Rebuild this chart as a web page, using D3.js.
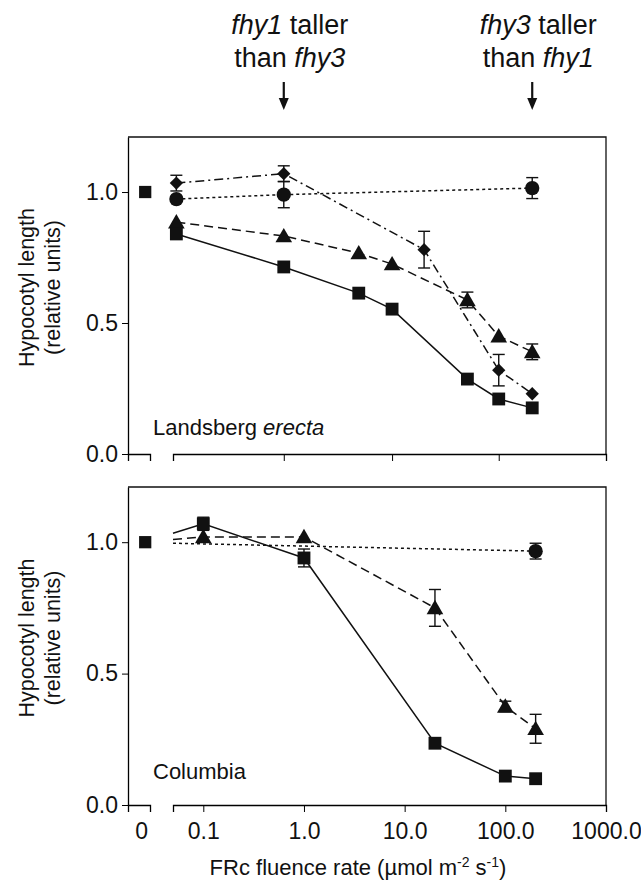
<!DOCTYPE html>
<html>
<head>
<meta charset="utf-8">
<script src="https://cdn.jsdelivr.net/npm/d3@7"></script>
<style>
  html, body { margin: 0; padding: 0; background: #fff; }
  svg { display: block; }
  text { font-family: "Liberation Sans", Arial, Helvetica, sans-serif; fill: #111; }
</style>
</head>
<body>
<svg id="chart" width="641" height="884"></svg>
<script>
// ---------------- data ----------------
const yTicks = [0, 0.5, 1.0];
const xTicksBottom = [0.1, 1, 10, 100, 1000];
const xTickLabelsBottom = ["0.1", "1.0", "10.0", "100.0", "1000.0"];
const xTicksTop = [0.63, 7.5, 86];

// Landsberg erecta (top panel)
const lerControl = 1.0;
const lerSquareX = [0.054, 0.63, 3.5, 7.5, 42, 86, 185];
const lerSquareY = [0.84, 0.714, 0.614, 0.553, 0.286, 0.21, 0.176];
const lerSquareErr = [0, 0, 0, 0, 0, 0, 0];
const lerTriX = [0.054, 0.63, 3.5, 7.5, 42, 86, 185];
const lerTriY = [0.885, 0.832, 0.767, 0.725, 0.588, 0.45, 0.39];
const lerTriErr = [0, 0, 0, 0, 0.03, 0, 0.03];
const lerDiaX = [0.054, 0.63, 15.6, 86, 185];
const lerDiaY = [1.034, 1.07, 0.78, 0.32, 0.23];
const lerDiaErr = [0.03, 0.03, 0.07, 0.06, 0];
const lerCircX = [0.054, 0.63, 185];
const lerCircY = [0.973, 0.99, 1.015];
const lerCircErr = [0, 0.05, 0.04];

// Columbia (bottom panel); first point (0.05) is a line start without marker
const colControl = 1.0;
const colStartX = 0.05;
const colSquareX = [0.05, 0.1, 1.0, 20, 100, 200];
const colSquareY = [1.034, 1.07, 0.94, 0.235, 0.11, 0.10];
const colSquareErr = [0, 0.025, 0.034, 0, 0, 0];
const colTriX = [0.05, 0.1, 1.0, 20, 100, 200];
const colTriY = [1.01, 1.02, 1.02, 0.75, 0.375, 0.29];
const colTriErr = [0, 0, 0, 0.07, 0.02, 0.055];
const colCircX = [0.05, 200];
const colCircY = [0.996, 0.966];
const colCircErr = [0, 0.03];

// ---------------- layout ----------------
const svg = d3.select("#chart");
const L = 128, R = 606;
const zeroLeft = 128, zeroRight = 150;
const logLeft = 173;
const FS = 22;
const TFS = 23;

const xLog = d3.scaleLog().domain([0.05, 1000]).range([logLeft, R]);
const xZero = d3.scaleLinear().domain([-0.75, 0.5]).range([zeroLeft, zeroRight]);

const styles = {
  square: { dash: null, sym: d3.symbolSquare, size: 165, rot: 0 },
  tri: { dash: "9,5", sym: d3.symbolTriangle, size: 120, rot: 0 },
  dia: { dash: "9,4,2,4", sym: d3.symbolSquare, size: 88, rot: 45 },
  circ: { dash: "3,3", sym: d3.symbolCircle, size: 160, rot: 0 }
};

function drawPanel(cfg) {
  const y = d3.scaleLinear().domain([0, 1.21]).range([cfg.bottom, cfg.top]);
  const g = svg.append("g");

  // frame top + right
  g.append("path")
    .attr("d", `M${L},${y(1.21)}H${R}V${y(0)}`)
    .attr("fill", "none").attr("stroke", "#111").attr("stroke-width", 1.3);

  // y axis
  const ya = g.append("g").attr("transform", `translate(${L},0)`)
    .call(d3.axisLeft(y).tickValues(yTicks).tickFormat(d3.format(".1f"))
      .tickSizeInner(6).tickSizeOuter(0).tickPadding(4));
  ya.selectAll("text").style("font-size", TFS + "px").style("font-family", "Liberation Sans, Arial, sans-serif");
  ya.select(".domain").attr("stroke-width", 1.3);

  // x axis – zero segment
  const xz = g.append("g").attr("transform", `translate(0,${y(0)})`)
    .call(d3.axisBottom(xZero).tickValues(cfg.labels ? [0] : []).tickFormat(d3.format("d"))
      .tickSizeInner(0).tickSizeOuter(7).tickPadding(18));
  xz.select(".domain").attr("stroke-width", 1.3);
  xz.selectAll("text").style("font-size", TFS + "px").style("font-family", "Liberation Sans, Arial, sans-serif");

  // x axis – log segment
  const xl = g.append("g").attr("transform", `translate(0,${y(0)})`)
    .call(d3.axisBottom(xLog).tickValues(cfg.xticks)
      .tickFormat((d, i) => cfg.labels ? xTickLabelsBottom[i] : "")
      .tickSizeInner(7).tickSizeOuter(7).tickPadding(11));
  xl.select(".domain").attr("stroke-width", 1.3);
  xl.selectAll("text").style("font-size", TFS + "px").style("font-family", "Liberation Sans, Arial, sans-serif");

  // series
  cfg.series.forEach(s => {
    const st = styles[s.type];
    const pts = s.x.map((xv, i) => ({ x: xv, y: s.y[i], e: s.err[i] }));
    const line = d3.line().x(d => xLog(d.x)).y(d => y(d.y));
    g.append("path").datum(pts).attr("d", line)
      .attr("fill", "none").attr("stroke", "#111").attr("stroke-width", 1.5)
      .attr("stroke-dasharray", st.dash);
    const mk = pts.filter(d => d.x > cfg.markerFrom);
    // error bars
    const eb = g.append("g").attr("stroke", "#111").attr("stroke-width", 1.4);
    mk.filter(d => d.e > 0).forEach(d => {
      const cx = xLog(d.x);
      eb.append("line").attr("x1", cx).attr("x2", cx).attr("y1", y(d.y - d.e)).attr("y2", y(d.y + d.e));
      eb.append("line").attr("x1", cx - 6).attr("x2", cx + 6).attr("y1", y(d.y - d.e)).attr("y2", y(d.y - d.e));
      eb.append("line").attr("x1", cx - 6).attr("x2", cx + 6).attr("y1", y(d.y + d.e)).attr("y2", y(d.y + d.e));
    });
    g.append("g").selectAll("path").data(mk).join("path")
      .attr("d", d3.symbol().type(st.sym).size(st.size))
      .attr("transform", d => `translate(${xLog(d.x)},${y(d.y) + (s.type === "tri" ? 1.5 : 0)}) rotate(${st.rot})`)
      .attr("fill", "#111");
  });

  // control (dark) square at 0
  g.append("path")
    .attr("d", d3.symbol().type(d3.symbolSquare).size(150))
    .attr("transform", `translate(${xZero(0) + 4},${y(cfg.control)})`)
    .attr("fill", "#111");

  // panel label
  const lab = g.append("text").attr("x", 153).attr("y", cfg.labelY)
    .style("font-size", FS + "px");
  cfg.labelParts.forEach(p => lab.append("tspan").text(p.t).style("font-style", p.i ? "italic" : "normal"));

  // y axis title
  const cy = (cfg.top + cfg.bottom) / 2 - 8;
  g.append("text").attr("transform", `translate(27,${cy}) rotate(-90)`)
    .attr("text-anchor", "middle").attr("dominant-baseline", "central").style("font-size", "21.5px")
    .text("Hypocotyl length");
  g.append("text").attr("transform", `translate(53,${cy}) rotate(-90)`)
    .attr("text-anchor", "middle").attr("dominant-baseline", "central").style("font-size", "21.5px")
    .text("(relative units)");
}

drawPanel({
  top: 137, bottom: 454, labels: false, xticks: xTicksTop, markerFrom: 0,
  control: lerControl, labelY: 435,
  labelParts: [{ t: "Landsberg ", i: false }, { t: "erecta", i: true }],
  series: [
    { type: "circ", x: lerCircX, y: lerCircY, err: lerCircErr },
    { type: "dia", x: lerDiaX, y: lerDiaY, err: lerDiaErr },
    { type: "tri", x: lerTriX, y: lerTriY, err: lerTriErr },
    { type: "square", x: lerSquareX, y: lerSquareY, err: lerSquareErr }
  ]
});

drawPanel({
  top: 487, bottom: 805, labels: true, xticks: xTicksBottom, markerFrom: colStartX,
  control: colControl, labelY: 779,
  labelParts: [{ t: "Columbia", i: false }],
  series: [
    { type: "circ", x: colCircX, y: colCircY, err: colCircErr },
    { type: "tri", x: colTriX, y: colTriY, err: colTriErr },
    { type: "square", x: colSquareX, y: colSquareY, err: colSquareErr }
  ]
});

// x axis title
const xt = svg.append("text").attr("x", 358).attr("y", 875).attr("text-anchor", "middle")
  .style("font-size", FS + "px");
xt.append("tspan").text("FRc fluence rate (\u00b5mol m");
xt.append("tspan").text("-2").attr("dy", -8).style("font-size", "14px");
xt.append("tspan").text(" s").attr("dy", 8);
xt.append("tspan").text("-1").attr("dy", -8).style("font-size", "14px");
xt.append("tspan").text(")").attr("dy", 8);

// annotations with arrows
const annX = [0.63, 185];
const annLines = [
  [[{ t: "fhy1", i: true }, { t: " taller", i: false }], [{ t: "than ", i: false }, { t: "fhy3", i: true }]],
  [[{ t: "fhy3", i: true }, { t: " taller", i: false }], [{ t: "than ", i: false }, { t: "fhy1", i: true }]]
];
annX.forEach((xv, k) => {
  const cx = xLog(xv);
  annLines[k].forEach((parts, j) => {
    const t = svg.append("text").attr("x", cx + 6).attr("y", 34 + j * 33)
      .attr("text-anchor", "middle").style("font-size", "27px");
    parts.forEach(p => t.append("tspan").text(p.t).style("font-style", p.i ? "italic" : "normal"));
  });
  svg.append("line").attr("x1", cx).attr("x2", cx).attr("y1", 82).attr("y2", 100)
    .attr("stroke", "#111").attr("stroke-width", 2.2);
  svg.append("path").attr("d", `M${cx - 5},${98}L${cx + 5},${98}L${cx},${110}Z`).attr("fill", "#111");
});
</script>
</body>
</html>
